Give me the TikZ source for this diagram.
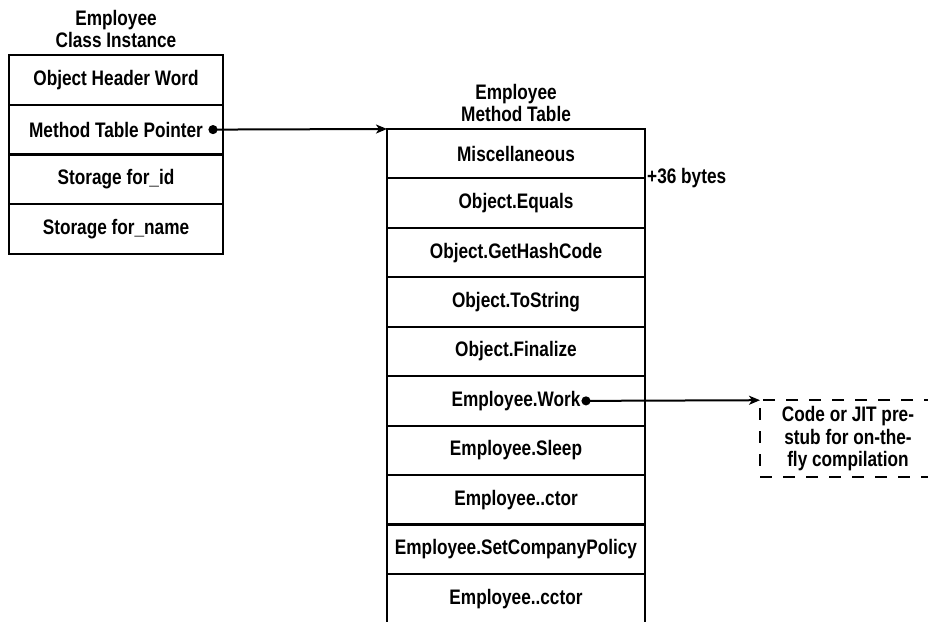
\documentclass[tikz,border=0pt]{standalone}
\usepackage{fontspec}
\setmainfont[FakeStretch=0.82]{Liberation Sans}
\usetikzlibrary{arrows.meta}
\tikzset{
    cell/.style = {rectangle, draw=black, line width=2pt, inner sep=0pt, outer sep=0pt, minimum height=49.6pt},
    icell/.style = {cell, minimum width=214pt},
    mcell/.style = {cell, minimum width=258pt, minimum height=49.44pt},
    title/.style = {align=center, inner sep=0pt},
    stub/.style = {rectangle, draw=black, line width=2pt, dash pattern=on 12pt off 11pt, align=center, minimum width=176pt, minimum height=77pt, inner sep=0pt, outer sep=0pt},
    ptr/.style = {{Circle[length=9pt]}-{Stealth[length=11pt,width=9pt,inset=3pt]}, line width=2pt},
    every picture/.style={font issue=\fontsize{21}{22.5}\bfseries},
    font issue/.style={execute at begin picture={#1\selectfont}}
}
\begin{document}
\begin{tikzpicture}[x=1pt,y=-1pt]
\useasboundingbox (0,0) rectangle (928,621);
%
\node[title] at (116,29) (cit) {Employee\\Class Instance};
\node[icell] at (116,79.9) (c1) {Object Header Word};
\node[icell] at (116,129.6) (c2) {Method Table Pointer};
\node[icell] at (116,179.4) (c3) {Storage for\_id};
\node[icell] at (116,229.1) (c4) {Storage for\_name};
%
\node[title] at (516,103) (mtt) {Employee\\Method Table};
\node[mcell] at (516,153.7) (m1) {Miscellaneous};
\node[mcell] at (516,203.2) (m2) {Object.Equals};
\node[mcell] at (516,252.6) (m3) {Object.GetHashCode};
\node[mcell] at (516,302.0) (m4) {Object.ToString};
\node[mcell] at (516,351.5) (m5) {Object.Finalize};
\node[mcell] at (516,400.9) (m6) {Employee.Work};
\node[mcell] at (516,450.4) (m7) {Employee.Sleep};
\node[mcell] at (516,499.8) (m8) {Employee..ctor};
\node[mcell] at (516,549.2) (m9) {Employee.SetCompanyPolicy};
\node[mcell] at (516,598.7) (m10) {Employee..cctor};
%
\node[anchor=west, inner sep=2pt] at (m1.south east) (bytes) {+36 bytes};
\node[stub] at (848,438.7) (code) {Code or JIT pre-\\stub for on-the-\\fly compilation};
%
\coordinate (p1) at (208.5,129.6);
\coordinate (p2) at (581.5,400.9);
\draw[ptr] (p1) -- (m1.north west);
\draw[ptr] (p2) -- (code.north west);

\end{tikzpicture}
\end{document}
